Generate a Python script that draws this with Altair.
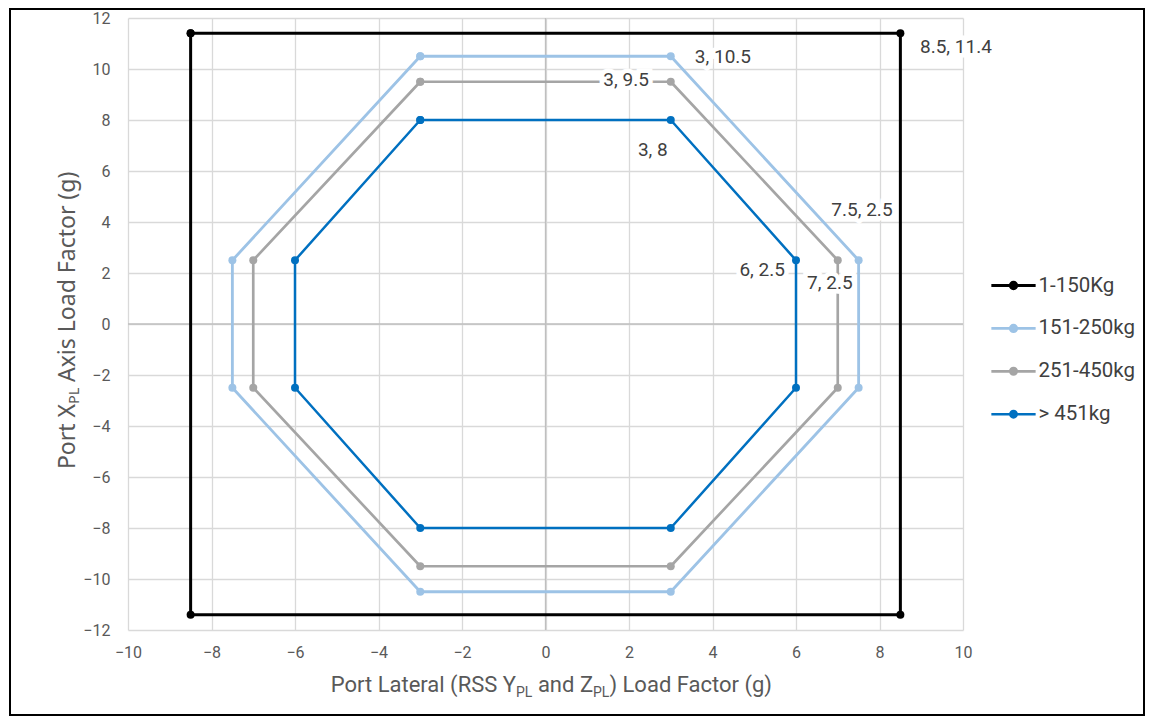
import altair as alt
import pandas as pd

# ---------------- data ----------------
series_names = ["1-150Kg", "151-250kg", "251-450kg", "> 451kg"]
series_colors = ["#000000", "#9DC3E6", "#A5A5A5", "#0070C0"]
series_widths = [3, 2.5, 2.5, 2.5]

s1_x = [-8.5, 8.5, 8.5, -8.5, -8.5]
s1_y = [11.4, 11.4, -11.4, -11.4, 11.4]
s2_x = [-3, 3, 7.5, 7.5, 3, -3, -7.5, -7.5, -3]
s2_y = [10.5, 10.5, 2.5, -2.5, -10.5, -10.5, -2.5, 2.5, 10.5]
s3_x = [-3, 3, 7, 7, 3, -3, -7, -7, -3]
s3_y = [9.5, 9.5, 2.5, -2.5, -9.5, -9.5, -2.5, 2.5, 9.5]
s4_x = [-3, 3, 6, 6, 3, -3, -6, -6, -3]
s4_y = [8, 8, 2.5, -2.5, -8, -8, -2.5, 2.5, 8]

label_text = ["8.5, 11.4", "3, 10.5", "3, 9.5", "3, 8", "7.5, 2.5", "6, 2.5", "7, 2.5"]
label_x = [8.97, 4.25, 1.93, 2.57, 7.58, 5.19, 6.81]
label_y = [10.86, 10.47, 9.57, 6.82, 4.47, 2.12, 1.61]
label_align = ["left", "center", "center", "center", "center", "center", "center"]

x_ticks = [-10, -8, -6, -4, -2, 0, 2, 4, 6, 8, 10]
y_ticks = [-12, -10, -8, -6, -4, -2, 0, 2, 4, 6, 8, 10, 12]

# axis titles, split where the "PL" subscripts go
x_title_parts = ["Port Lateral (RSS Y", "PL", "and Z", "PL", ") Load Factor (g)"]
y_title_parts = ["Port X", "PL", "Axis Load Factor (g)"]

# ---------------- tables ----------------
rows = []
for name, xs, ys in zip(series_names, [s1_x, s2_x, s3_x, s4_x], [s1_y, s2_y, s3_y, s4_y]):
    for i, (xv, yv) in enumerate(zip(xs, ys)):
        rows.append({"series": name, "i": i, "x": xv, "y": yv})
df = pd.DataFrame(rows)

lab = pd.DataFrame({"t": label_text, "x": label_x, "y": label_y, "a": label_align})
zero = pd.DataFrame({"v": [0]})

FONT = "Roboto, sans-serif"
YFONT = "Noto Sans, Liberation Sans, Arial, sans-serif"
W, H = 835, 612
GREY = "#595959"

xscale = alt.Scale(domain=[-10, 10], nice=False, zero=False)
yscale = alt.Scale(domain=[-12, 12], nice=False, zero=False)

xaxis = alt.Axis(
    values=x_ticks, grid=True, gridColor="#d9d9d9", gridWidth=1.3, ticks=False, domain=False,
    labelFont=FONT, labelFontSize=16, labelColor=GREY, labelPadding=14, title=None,
    labelFlush=False, labelOverlap=False,
)
yaxis = alt.Axis(
    values=y_ticks, grid=True, gridColor="#d9d9d9", gridWidth=1.3, ticks=False, domain=False,
    labelFont=FONT, labelFontSize=16, labelColor=GREY, labelPadding=18, title=None,
    labelFlush=False, labelOverlap=False,
)

legend_path = (
    "M-1.08,0H1.08"
    "M-0.078,0A0.078,0.078,0,1,0,0.078,0A0.078,0.078,0,1,0,-0.078,0"
    "M-0.156,0A0.156,0.156,0,1,0,0.156,0A0.156,0.156,0,1,0,-0.156,0"
)

color = alt.Color(
    "series:N",
    scale=alt.Scale(domain=series_names, range=series_colors),
    legend=alt.Legend(
        title=None, orient="none", legendX=863.5, legendY=245.5, padding=0,
        symbolType=legend_path, symbolSize=1681, symbolStrokeWidth=2.5,
        labelFont=FONT, labelFontSize=20.5, labelColor="#404040", labelOffset=3,
        rowPadding=9.9, labelLimit=200,
    ),
)

base = alt.Chart(df)

zero_x = alt.Chart(zero).mark_rule(color="#bfbfbf", strokeWidth=1.3).encode(x=alt.X("v:Q", scale=xscale, axis=xaxis))
zero_y = alt.Chart(zero).mark_rule(color="#bfbfbf", strokeWidth=1.3).encode(y=alt.Y("v:Q", scale=yscale, axis=yaxis))

lines = base.mark_line(strokeCap="round", strokeJoin="round").encode(
    x=alt.X("x:Q", scale=xscale, axis=xaxis),
    y=alt.Y("y:Q", scale=yscale, axis=yaxis),
    color=color,
    strokeWidth=alt.StrokeWidth("series:N", scale=alt.Scale(domain=series_names, range=series_widths), legend=None),
    order="i:Q",
    detail="series:N",
)
points = base.mark_point(filled=True, size=64, opacity=1).encode(
    x="x:Q", y="y:Q",
    color=alt.Color("series:N", scale=alt.Scale(domain=series_names, range=series_colors), legend=None),
)


def text_layers(align):
    src = alt.Chart(lab).transform_filter(alt.datum.a == align)
    halo = src.mark_text(
        font=FONT, fontSize=19, stroke="white", strokeWidth=9, strokeJoin="miter",
        color="white", baseline="middle", align=align,
    ).encode(x="x:Q", y="y:Q", text="t:N")
    txt = src.mark_text(
        font=FONT, fontSize=19, color="#404040", baseline="middle", align=align,
    ).encode(x="x:Q", y="y:Q", text="t:N")
    return [halo, txt]


def title_piece(text, px, py, size, align, font, angle=0):
    return alt.Chart(zero).mark_text(
        text=text, font=font, fontSize=size, color=GREY, align=align,
        baseline="alphabetic", angle=angle,
    ).encode(x=alt.value(px), y=alt.value(py))


# x title (Roboto 22, subscripts 14)
xa = 388.0
w_sub, w_space, w_and = 16.4, 5.5, 55.1
xb = H + 61.7
x_title = [
    title_piece(x_title_parts[0], xa, xb, 22, "right", FONT),
    title_piece(x_title_parts[1], xa, xb + 5, 14, "left", FONT),
    title_piece(x_title_parts[2], xa + w_sub + w_space, xb, 22, "left", FONT),
    title_piece(x_title_parts[3], xa + w_sub + w_space + w_and, xb + 5, 14, "left", FONT),
    title_piece(x_title_parts[4], xa + 2 * w_sub + w_space + w_and, xb, 22, "left", FONT),
]

# y title (rotated, reads bottom to top)
ya = 386.0
yb = -53.0
y_title = [
    title_piece(y_title_parts[0], yb, ya, 23, "right", YFONT, 270),
    title_piece(y_title_parts[1], yb + 3.5, ya, 14.5, "left", YFONT, 270),
    title_piece(y_title_parts[2], yb, ya - 16.0 - 6.0, 23, "left", YFONT, 270),
]

border = alt.Chart(zero).mark_rect(fill=None, stroke="#000000", strokeWidth=2).encode(
    x=alt.value(-118), x2=alt.value(W + 181), y=alt.value(-9), y2=alt.value(H + 85)
)

chart = alt.layer(
    zero_x, zero_y, lines, points, *text_layers("left"), *text_layers("center"),
    *x_title, *y_title, border
).properties(
    width=W, height=H,
    autosize=alt.AutoSizeParams(type="none"),
    padding={"left": 120, "top": 10, "right": 182, "bottom": 86},
    background="white",
).configure_view(stroke=None)

chart.save("out.html", embed_options={"renderer": "svg", "actions": False})
